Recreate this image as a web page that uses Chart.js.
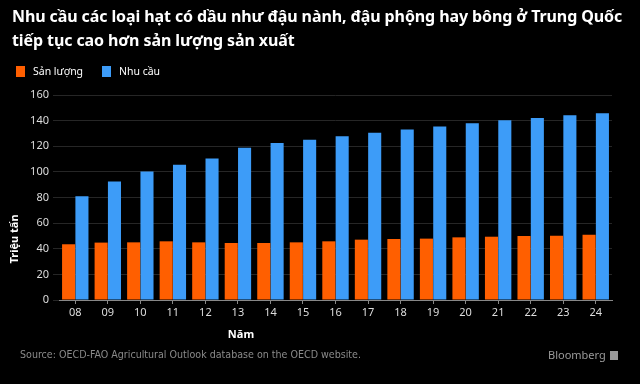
<!DOCTYPE html>
<html>
<head>
<meta charset="utf-8">
<script src="https://cdn.jsdelivr.net/npm/chart.js@4.4.1/dist/chart.umd.min.js"></script>
<style>
    html, body { margin: 0; padding: 0; background: #000; }
    #wrap { position: relative; width: 640px; height: 384px; background: #000; overflow: hidden; }
    #grafico { position: absolute; left: 0; top: 0; }
    .titulo { position: absolute; left: 12px; top: 4px; color: #fff; font-family: "Noto Sans", sans-serif; font-weight: bold; font-size: 16px; line-height: 24px; white-space: nowrap; letter-spacing: -0.1px; }
    .legenda { position: absolute; top: 64px; left: 16px; font-family: "Noto Sans", sans-serif; font-size: 10.5px; color: #fff; }
    .legenda span.item { position: absolute; white-space: nowrap; }
    .legenda i { display: inline-block; width: 9px; height: 11px; vertical-align: -2px; margin-right: 8px; }
    .fonte { position: absolute; left: 20px; top: 348px; color: #8a8a8a; font-family: "DejaVu Sans Condensed", "DejaVu Sans", sans-serif; font-stretch: condensed; font-size: 10.6px; white-space: nowrap; }
    .marca { position: absolute; left: 548px; top: 347px; color: #9a9a9a; font-family: "Noto Sans", sans-serif; font-size: 11px; }
    .marca b { display: inline-block; width: 8px; height: 9px; background: #9a9a9a; margin-left: 4px; vertical-align: -1px; }
</style>
</head>
<body>
<div id="wrap">
    <canvas id="grafico" width="640" height="384"></canvas>
    <div class="titulo">Nhu cầu các loại hạt có dầu như đậu nành, đậu phộng hay bông ở Trung Quốc<br>tiếp tục cao hơn sản lượng sản xuất</div>
    <div class="legenda" id="legenda"></div>
    <div class="fonte">Source: OECD-FAO Agricultural Outlook database on the OECD website.</div>
    <div class="marca">Bloomberg<b></b></div>
</div>
<script>
// Dados do gráfico
const anos = ['08', '09', '10', '11', '12', '13', '14', '15', '16', '17', '18', '19', '20', '21', '22', '23', '24'];
const sanLuong = [43.5, 44.8, 45.0, 45.8, 45.0, 44.5, 44.5, 45.0, 45.8, 47.1, 47.6, 47.9, 48.9, 49.4, 50.0, 50.2, 51.0];
const nhuCau = [81.0, 92.4, 100.2, 105.6, 110.5, 118.8, 122.5, 125.0, 127.9, 130.5, 133.0, 135.4, 138.0, 140.3, 142.1, 144.2, 145.8];
const yTicks = [0, 20, 40, 60, 80, 100, 120, 140, 160];

const corLaranja = '#ff5f00';
const corAzul = '#3d9cf8';

// Legenda em HTML
const legendaEl = document.getElementById('legenda');
[['Sản lượng', corLaranja, 0], ['Nhu cầu', corAzul, 86]].forEach(([txt, cor, x]) => {
    const s = document.createElement('span');
    s.className = 'item';
    s.style.left = x + 'px';
    s.innerHTML = `<i style="background:${cor}"></i>${txt}`;
    legendaEl.appendChild(s);
});

// Títulos dos eixos desenhados à mão
const titulosEixos = {
    id: 'titulosEixos',
    afterDraw(chart) {
        const ctx = chart.ctx;
        ctx.save();
        ctx.fillStyle = '#fff';
        ctx.font = 'bold 11px "Noto Sans", sans-serif';
        ctx.textAlign = 'center';
        ctx.textBaseline = 'middle';
        ctx.fillText('Năm', 241, 335);
        ctx.translate(15, 239);
        ctx.rotate(-Math.PI / 2);
        ctx.fillText('Triệu tấn', 0, 0);
        ctx.restore();
    }
};

const ctx = document.getElementById('grafico').getContext('2d');
new Chart(ctx, {
    type: 'bar',
    data: {
        labels: anos,
        datasets: [
            { label: 'Sản lượng', data: sanLuong, backgroundColor: corLaranja, barPercentage: 0.98, categoryPercentage: 0.82 },
            { label: 'Nhu cầu', data: nhuCau, backgroundColor: corAzul, barPercentage: 0.98, categoryPercentage: 0.82 }
        ]
    },
    options: {
        responsive: false,
        animation: false,
        layout: { padding: { top: 95, right: 28, bottom: 64, left: 0 } },
        plugins: { legend: { display: false }, tooltip: { enabled: false } },
        scales: {
            x: {
                grid: { display: true, drawOnChartArea: false, offset: false, tickLength: 4, color: '#888' },
                border: { color: '#888' },
                ticks: { color: '#ddd', font: { family: '"Noto Sans", sans-serif', size: 11 }, padding: 2, maxRotation: 0 },
                afterFit: (s) => { s.height = 20; }
            },
            y: {
                min: 0,
                max: 160,
                afterBuildTicks: (s) => { s.ticks = yTicks.map(v => ({ value: v })); },
                grid: { color: '#262626', tickLength: 6 },
                border: { display: false },
                ticks: { color: '#ddd', font: { family: '"Noto Sans", sans-serif', size: 11 }, padding: 4 },
                afterFit: (s) => { s.width = 59; }
            }
        }
    },
    plugins: [titulosEixos]
});
</script>
</body>
</html>
